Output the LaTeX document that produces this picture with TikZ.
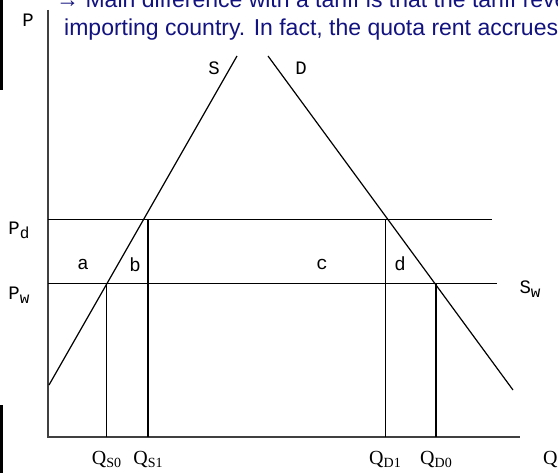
\documentclass[tikz,border=0pt]{standalone}
\usepackage{fontspec}
\setmainfont{Liberation Serif}
\newfontfamily\slidefont{Liberation Sans}
\newfontfamily\plotfont{Liberation Mono}
\usetikzlibrary{positioning}
\definecolor{slideblue}{RGB}{18,18,128}
\newcommand{\dropsub}[1]{\raisebox{-4pt}{\fontsize{16}{16}\selectfont #1}}
\newcommand{\qsub}[1]{Q\raisebox{-3pt}{\fontsize{14}{14}\selectfont #1}}

\begin{document}
\begin{tikzpicture}[
        x=1pt,
        y=-1pt,
        axis/.style={line width=1.6pt, draw=black!75},
        curve/.style={line width=1.2pt},
        level/.style={line width=1pt},
        qthin/.style={line width=1pt},
        qthick/.style={line width=2.6pt},
        lbl/.style={font=\plotfont\fontsize{19}{19}\selectfont, inner sep=0pt},
        qlbl/.style={font=\fontsize{20}{20}\selectfont, inner sep=0pt},
        slide/.style={font=\slidefont\fontsize{23}{23}\selectfont, text=slideblue,
                      anchor=base west, inner sep=0pt}
    ]
        \useasboundingbox (0,0) rectangle (558,473);
        \clip (0,0) rectangle (558,473);

        % === BORD DE LA DIAPO ===
        \fill (0,0) rectangle (2.5,90);
        \fill (0,405) rectangle (2.5,473);

        % === TEXTE DE LA DIAPO (coupe) ===
        \node[slide] (line1) at (56,8) {→ Main difference with a tariff is that the tariff revenue accrues};
        \node[slide] (line2) at (64,36) {importing country. In fact, the quota rent accrues to foreigners};

        % === AXES ===
        \coordinate (O) at (48,437);
        \coordinate (ptop) at (48,10);
        \coordinate (qend) at (520,437);
        \draw[axis] (ptop) -- (O) -- (qend);

        % === PRIX ===
        \coordinate (pdL) at (48,220);
        \coordinate (pdR) at (492,220);
        \coordinate (pwL) at (48,284);
        \coordinate (pwR) at (497,284);
        \draw[level] (pdL) -- (pdR);
        \draw[level] (pwL) -- (pwR);

        % === OFFRE ET DEMANDE ===
        \coordinate (s0) at (49,385);
        \coordinate (s1) at (237,56);
        \coordinate (d0) at (268,56);
        \coordinate (d1) at (513,390);
        \draw[curve] (s0) -- (s1);
        \draw[curve] (d0) -- (d1);

        % === QUANTITES ===
        \coordinate (qs0top) at (106.5,284);
        \coordinate (qs0foot) at (106.5,437);
        \coordinate (qs1top) at (148,220);
        \coordinate (qs1foot) at (148,437);
        \coordinate (qd1top) at (385,220);
        \coordinate (qd1foot) at (385,437);
        \coordinate (qd0top) at (436,284);
        \coordinate (qd0foot) at (436,437);
        \draw[qthin] (qs0top) -- (qs0foot);
        \draw[qthick] (qs1top) -- (qs1foot);
        \draw[qthin] (qd1top) -- (qd1foot);
        \draw[qthick] (qd0top) -- (qd0foot);

        % === ETIQUETTES ===
        \node[lbl] (pLab) at (28,20) {P};
        \node[lbl] (pdLab) at (19,230) {P\dropsub{d}};
        \node[lbl] (pwLab) at (19,295) {P\dropsub{w}};
        \node[lbl] (swLab) at (530,289) {S\dropsub{w}};
        \node[lbl] (sLab) at (214,68) {S};
        \node[lbl] (dLab) at (301,68) {D};
        \node[lbl] (areaA) at (83,264) {a};
        \node[lbl] (areaB) at (135,265) {b};
        \node[lbl] (areaC) at (322,264) {c};
        \node[lbl] (areaD) at (400,264) {d};

        \node[qlbl, below=14pt of qs0foot] (qs0Lab) {\qsub{S0}};
        \node[qlbl, below=14pt of qs1foot] (qs1Lab) {\qsub{S1}};
        \node[qlbl, below=14pt of qd1foot] (qd1Lab) {\qsub{D1}};
        \node[qlbl, below=14pt of qd0foot] (qd0Lab) {\qsub{D0}};
        \node[qlbl, anchor=north west] (qLab) at (543,451) {Q};
    \end{tikzpicture}
\end{document}
